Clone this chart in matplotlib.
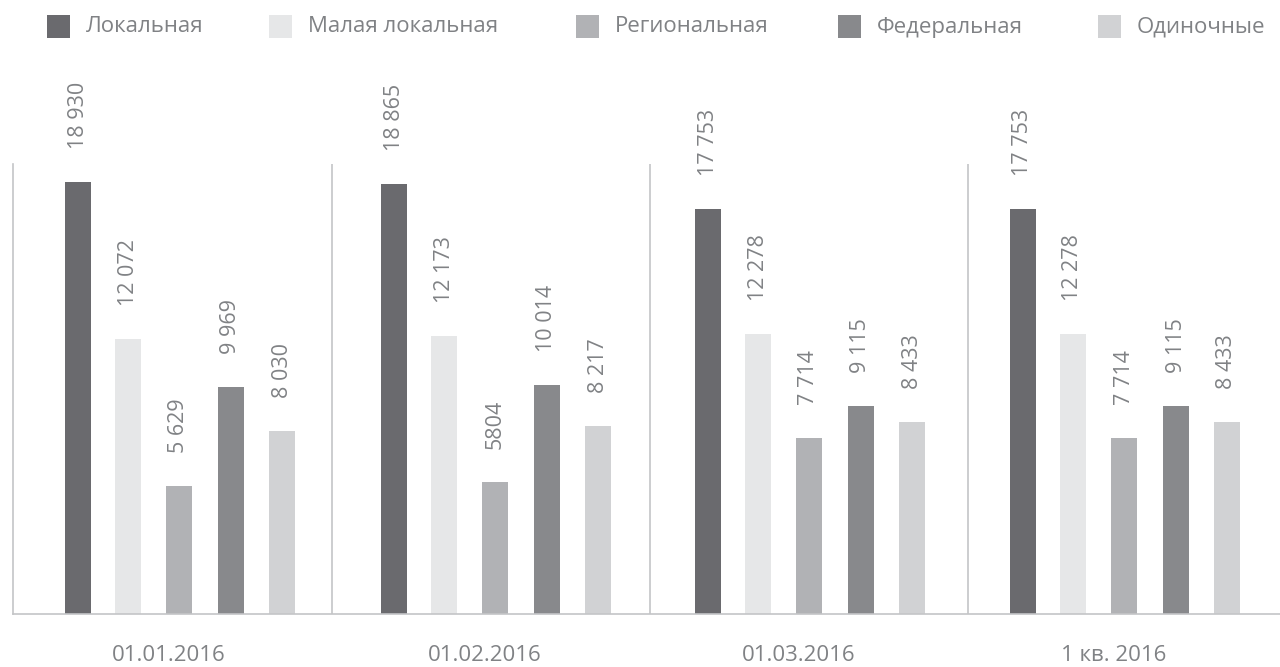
import matplotlib
matplotlib.use("Agg")
import matplotlib.pyplot as plt
from matplotlib.patches import Rectangle

categories = ["01.01.2016", "01.02.2016", "01.03.2016", "1 кв. 2016"]
series_names = ["Локальная", "Малая локальная", "Региональная", "Федеральная", "Одиночные"]
lokal = [18930, 18865, 17753, 17753]
malaya = [12072, 12173, 12278, 12278]
region = [5629, 5804, 7714, 7714]
federal = [9969, 10014, 9115, 9115]
odin = [8030, 8217, 8433, 8433]
labels_lokal = ["18 930", "18 865", "17 753", "17 753"]
labels_malaya = ["12 072", "12 173", "12 278", "12 278"]
labels_region = ["5 629", "5804", "7 714", "7 714"]
labels_federal = ["9 969", "10 014", "9 115", "9 115"]
labels_odin = ["8 030", "8 217", "8 433", "8 433"]

colors = ["#6a6a6e", "#e6e7e8", "#b1b2b5", "#88898c", "#d1d2d4"]
text_color = "#808285"
line_color = "#c4c5c7"
font = "Open Sans"

W, H = 1280, 667
fig = plt.figure(figsize=(W / 100, H / 100), dpi=100)
ax_left, ax_right, ax_top, ax_bottom = 13, 1285, 164, 614
ax = fig.add_axes([ax_left / W, 1 - ax_bottom / H, (ax_right - ax_left) / W, (ax_bottom - ax_top) / H])

ymax = 19720
ax.set_ylim(0, ymax)
ax.set_xlim(0, ax_right - ax_left)

series = [lokal, malaya, region, federal, odin]
series_labels = [labels_lokal, labels_malaya, labels_region, labels_federal, labels_odin]
group_centers = [166, 482, 796, 1111]
offsets = [-101, -51, 0, 52, 103]
bar_w = 26
for s, (vals, labs) in enumerate(zip(series, series_labels)):
    xs = [c + offsets[s] for c in group_centers]
    ax.bar(xs, vals, width=bar_w, color=colors[s], linewidth=0)
    for x, v, lab in zip(xs, vals, labs):
        ax.annotate(lab, (x, v), xytext=(0, 33), textcoords="offset pixels",
                    rotation=90, ha="center", va="bottom", fontsize=15.5,
                    color=text_color, family=font, annotation_clip=False)

for sx in [319, 637, 955]:
    ax.axvline(sx, color=line_color, linewidth=1.2)

for sp in ["top", "right"]:
    ax.spines[sp].set_visible(False)
for sp in ["left", "bottom"]:
    ax.spines[sp].set_color(line_color)
    ax.spines[sp].set_linewidth(1.2)
ax.set_yticks([])
ax.set_xticks([c - 10 for c in group_centers])
ax.set_xticklabels(categories, fontsize=16, color=text_color, family=font)
ax.tick_params(axis="x", length=0, pad=22.5)

# legend
sq_x = [47, 269, 576, 838, 1098]
for i, name in enumerate(series_names):
    fig.patches.append(Rectangle((sq_x[i] / W, 1 - 38 / H), 23 / W, 23 / H,
                                 transform=fig.transFigure, color=colors[i], linewidth=0))
    fig.text((sq_x[i] + 39) / W, 1 - 27 / H, name, fontsize=16, color=text_color,
             family=font, va="center", ha="left")

fig.savefig("out.png", dpi=100, facecolor="white")
